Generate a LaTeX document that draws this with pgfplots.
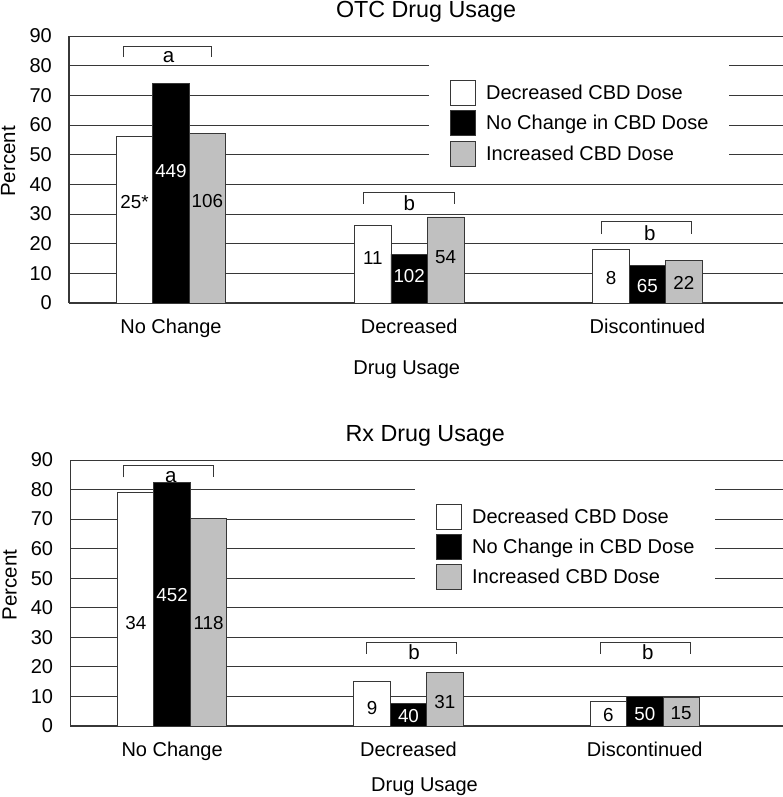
\documentclass[border=0pt]{standalone}
\usepackage{fontspec}
\setmainfont{Liberation Sans}
\usepackage{pgfplots}
\pgfplotsset{compat=1.18}
\definecolor{gridc}{RGB}{55,55,55}
\definecolor{barg}{RGB}{192,192,192}
\newcommand{\fz}[1]{\fontsize{#1}{#1}\selectfont}
\tikzset{
  bl/.style={font=\fz{18.8}, anchor=center, inner sep=0pt},
  brk/.style={gridc, line width=0.9pt},
  lt/.style={font=\fz{20.5}, anchor=center, inner sep=0pt},
}
\pgfplotsset{
  limg/.style={legend image code/.code={\draw[##1,draw=gridc,line width=0.9pt] (0pt,-12.5pt) rectangle (25pt,12.5pt);}},
  cbdaxis/.style={
    scale only axis,
    ymin=0, ymax=90,
    ybar=0pt, bar width=36.5pt,
    axis x line*=bottom, axis y line*=left,
    axis line style={gridc, line width=1pt},
    ymajorgrids, grid style={gridc, line width=0.9pt},
    ytick={0,10,...,90},
    xtick={0,1,2}, xticklabels={No Change,Decreased,Discontinued},
    major tick length=0pt,
    /pgf/number format/assume math mode=true,
    every axis title shift=0pt,
    yticklabel style={font=\fz{20}, anchor=east, inner sep=0pt, xshift=-17pt},
    xticklabel style={font=\fz{20}, anchor=base, inner sep=0pt, yshift=-30.5pt},
    title style={font=\fz{23.3}, anchor=base, inner sep=0pt},
    xlabel style={font=\fz{20}, anchor=base, inner sep=0pt},
    ylabel style={font=\fz{20.5}, anchor=base, inner sep=0pt},
    ylabel={Percent}, xlabel={Drug Usage},
    legend cell align=left,
    legend style={draw=none, fill=white, font=\fz{20}, anchor=north west,
      inner xsep=21pt, inner ysep=13.6pt, row sep=0pt, column sep=10pt,
      nodes={inner sep=0pt, minimum height=30.5pt}},
  },
}
\begin{document}
\begin{tikzpicture}
\useasboundingbox (0pt,0pt) rectangle (783pt,797pt);
% ---------------- OTC ----------------
\begin{axis}[cbdaxis,
  at={(69pt,494pt)}, anchor=south west,
  width=714pt, height=267pt,
  xmin=-0.428, xmax=2.569,
  title={OTC Drug Usage},
  title style={at={(axis description cs:0.5,1.070)}},
  xlabel style={at={(axis description cs:0.473,-0.266)}},
  ylabel style={at={(axis description cs:-0.0756,0.53)}},
  legend style={at={(axis description cs:0.5042,0.8957)}},
]
\addplot[fill=white, draw=gridc, line width=0.9pt, limg] coordinates {(0,56) (1,26) (2,18)};
\addplot[fill=black, draw=gridc, line width=0.9pt, limg] coordinates {(0,74) (1,16.5) (2,12.5)};
\addplot[fill=barg, draw=gridc, line width=0.9pt, limg] coordinates {(0,57) (1,29) (2,14.2)};
\legend{Decreased CBD Dose, No Change in CBD Dose, Increased CBD Dose}
% bar labels
\node[bl] at (axis cs:-0.153,34.1) {25*};
\node[bl, text=white] at (axis cs:0,44.6) {449};
\node[bl] at (axis cs:0.153,34.4) {106};
\node[bl] at (axis cs:0.847,15.1) {11};
\node[bl, text=white] at (axis cs:1,9.1) {102};
\node[bl] at (axis cs:1.153,15.3) {54};
\node[bl] at (axis cs:1.847,8.3) {8};
\node[bl, text=white] at (axis cs:2,5.7) {65};
\node[bl] at (axis cs:2.153,6.6) {22};
% brackets
\draw[brk] (axis cs:-0.2,82.9) -- (axis cs:-0.2,86.6) -- (axis cs:0.172,86.6) -- (axis cs:0.172,82.9);
\node[lt] at (axis cs:-0.01,83.0) {a};
\draw[brk] (axis cs:0.806,33.4) -- (axis cs:0.806,37.4) -- (axis cs:1.188,37.4) -- (axis cs:1.188,33.4);
\node[lt] at (axis cs:1.0,33.7) {b};
\draw[brk] (axis cs:1.808,23.2) -- (axis cs:1.808,27.4) -- (axis cs:2.186,27.4) -- (axis cs:2.186,23.2);
\node[lt] at (axis cs:2.01,23.4) {b};
\end{axis}
% ---------------- Rx ----------------
\begin{axis}[cbdaxis,
  at={(70.3pt,71pt)}, anchor=south west,
  width=712.7pt, height=266pt,
  xmin=-0.431, xmax=2.585,
  title={Rx Drug Usage},
  title style={at={(axis description cs:0.498,1.069)}},
  xlabel style={at={(axis description cs:0.497,-0.247)}},
  ylabel style={at={(axis description cs:-0.0752,0.53)}},
  legend style={at={(axis description cs:0.4837,0.8947)}, nodes={minimum height=30.2pt}},
]
\addplot[fill=white, draw=gridc, line width=0.9pt, limg] coordinates {(0,79) (1,15) (2,8.2)};
\addplot[fill=black, draw=gridc, line width=0.9pt, limg] coordinates {(0,82.3) (1,7.5) (2,10.1)};
\addplot[fill=barg, draw=gridc, line width=0.9pt, limg] coordinates {(0,70.3) (1,18.2) (2,9.7)};
\legend{Decreased CBD Dose, No Change in CBD Dose, Increased CBD Dose}
\node[bl] at (axis cs:-0.154,34.7) {34};
\node[bl, text=white] at (axis cs:0,44.3) {452};
\node[bl] at (axis cs:0.154,34.9) {118};
\node[bl] at (axis cs:0.846,6.0) {9};
\node[bl, text=white] at (axis cs:1,3.4) {40};
\node[bl] at (axis cs:1.154,8.0) {31};
\node[bl] at (axis cs:1.846,3.7) {6};
\node[bl, text=white] at (axis cs:2,4.1) {50};
\node[bl] at (axis cs:2.154,4.3) {15};
\draw[brk] (axis cs:-0.205,84.1) -- (axis cs:-0.205,88.1) -- (axis cs:0.176,88.1) -- (axis cs:0.176,84.1);
\node[lt] at (axis cs:-0.006,84.2) {a};
\draw[brk] (axis cs:0.823,24.4) -- (axis cs:0.823,28.3) -- (axis cs:1.201,28.3) -- (axis cs:1.201,24.4);
\node[lt] at (axis cs:1.024,24.9) {b};
\draw[brk] (axis cs:1.813,24.4) -- (axis cs:1.813,28.3) -- (axis cs:2.194,28.3) -- (axis cs:2.194,24.4);
\node[lt] at (axis cs:2.013,24.9) {b};
\end{axis}
\end{tikzpicture}
\end{document}
